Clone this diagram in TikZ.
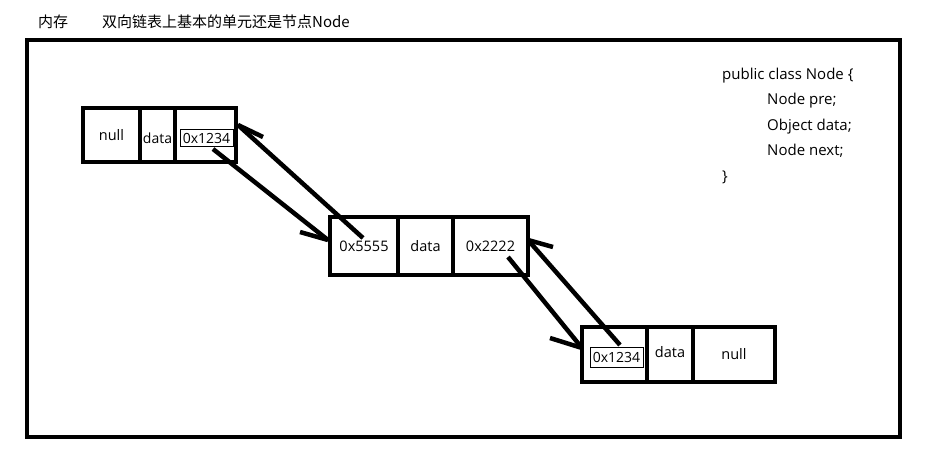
\documentclass[tikz,border=0pt]{standalone}
\usepackage{fontspec}
\setmainfont{Open Sans}
\newfontfamily\cjk{Noto Sans CJK SC}
\begin{document}
\begin{tikzpicture}[x=1pt,y=-1pt,
  cell/.style={draw,line width=4pt,inner sep=0pt,outer sep=0pt,font=\fontsize{14.5}{16}\selectfont},
  tbox/.style={draw,line width=1pt,inner sep=0pt,outer sep=0pt,font=\fontsize{14}{16}\selectfont},
  link/.style={line width=4.5pt},
  codetext/.style={anchor=base west,inner sep=0pt,font=\fontsize{15}{17}\selectfont},
  titletext/.style={anchor=base west,inner sep=0pt,font=\fontsize{15}{17}\selectfont}]
\useasboundingbox[fill=white] (0,0) rectangle (929,468);
% frame
\draw[line width=4pt] (27,40) rectangle (900,437);
% title
\node[titletext] (t0) at (38,28) {\cjk 内存};
\node[titletext] (t1) at (102,28) {\cjk 双向链表上基本的单元还是节点Node};
% node 1
\node[cell,minimum width=57pt,minimum height=54pt] (n1a) at (111.5,135) {null};
\node[cell,minimum width=35pt,minimum height=54pt] (n1b) at (157.5,135) {};
\node[inner sep=0pt,font=\fontsize{14}{16}\selectfont] (d1) at (157.5,138) {data};
\node[cell,minimum width=61pt,minimum height=54pt] (n1c) at (205.5,135) {};
\node[tbox,minimum width=53pt,minimum height=17pt] (b1) at (206.5,138.5) {0x1234};
% node 2
\node[cell,minimum width=68pt,minimum height=58pt] (n2a) at (364,246) {0x5555};
\node[cell,minimum width=55pt,minimum height=58pt] (n2b) at (425.5,246) {data};
\node[cell,minimum width=75pt,minimum height=58pt] (n2c) at (490.5,246) {0x2222};
% node 3
\node[cell,minimum width=65pt,minimum height=55pt] (n3a) at (614.5,354.5) {};
\node[tbox,minimum width=53pt,minimum height=20pt] (b3) at (616.5,357) {0x1234};
\node[cell,minimum width=46pt,minimum height=55pt] (n3b) at (670,354.5) {};
\node[inner sep=0pt,font=\fontsize{14.5}{16}\selectfont] (d3) at (670,352) {data};
\node[cell,minimum width=82pt,minimum height=55pt] (n3c) at (734,354.5) {null};
% arrow coordinates
\coordinate (a1) at (213,149); \coordinate (a2) at (328,240); \coordinate (a3) at (300,232);
\coordinate (p1) at (363,238); \coordinate (p2) at (238,125); \coordinate (p3) at (263,137);
\coordinate (q1) at (508,257); \coordinate (q2) at (582,348); \coordinate (q3) at (550,338);
\coordinate (r1) at (620,345); \coordinate (r2) at (528,240); \coordinate (r3) at (553,247);
\draw[link] (a1) -- (a2); \draw[link] (a3) -- (a2);
\draw[link] (p1) -- (p2); \draw[link] (p3) -- (p2);
\draw[link] (q1) -- (q2); \draw[link] (q3) -- (q2);
\draw[link] (r1) -- (r2); \draw[link] (r3) -- (r2);
% code
\node[codetext] (code1) at (722,80) {public class Node \{};
\node[codetext] (code2) at (767,105) {Node pre;};
\node[codetext] (code3) at (767,131) {Object data;};
\node[codetext] (code4) at (767,156) {Node next;};
\node[codetext] (code5) at (722,181) {\}};
\end{tikzpicture}
\end{document}
